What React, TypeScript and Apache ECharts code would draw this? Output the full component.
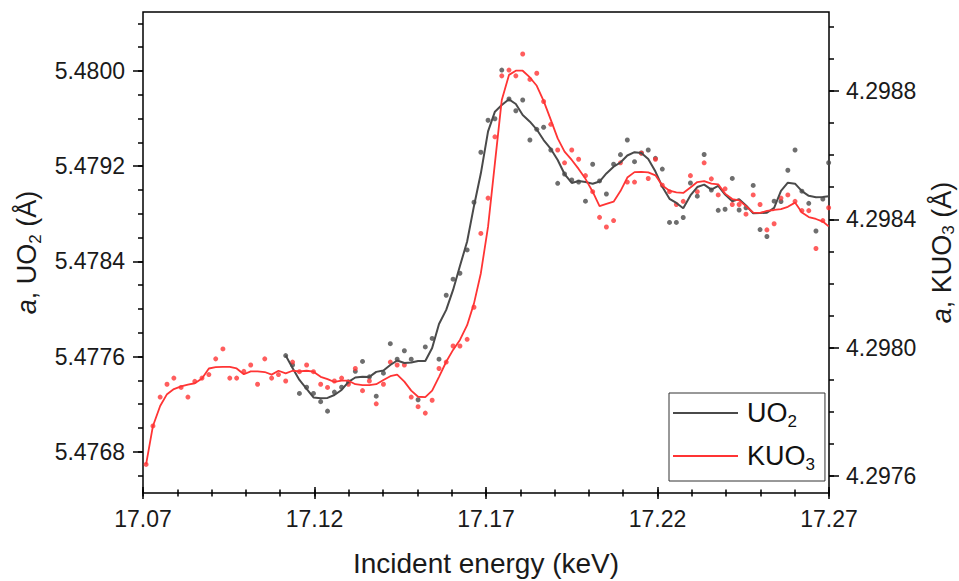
import React, { useEffect, useRef } from "react";
import * as echarts from "echarts";

// Incident energy (keV) of each measured point
const energies = [
  17.0709, 17.0729, 17.075, 17.077, 17.079, 17.0811, 17.0831, 17.0851, 17.0872, 17.0892,
  17.0912, 17.0933, 17.0953, 17.0973, 17.0994, 17.1014, 17.1034, 17.1055, 17.1075, 17.1095,
  17.1116, 17.1136, 17.1156, 17.1177, 17.1197, 17.1218, 17.1238, 17.1258, 17.1279, 17.1299,
  17.1319, 17.134, 17.136, 17.138, 17.1401, 17.1421, 17.1441, 17.1462, 17.1482, 17.1502,
  17.1523, 17.1543, 17.1563, 17.1584, 17.1604, 17.1624, 17.1645, 17.1665, 17.1685, 17.1706,
  17.1726, 17.1746, 17.1767, 17.1787, 17.1807, 17.1828, 17.1848, 17.1868, 17.1889, 17.1909,
  17.1929, 17.195, 17.197, 17.199, 17.2011, 17.2031, 17.2051, 17.2072, 17.2092, 17.2112,
  17.2133, 17.2153, 17.2173, 17.2194, 17.2214, 17.2235, 17.2255, 17.2275, 17.2296, 17.2316,
  17.2336, 17.2357, 17.2377, 17.2397, 17.2418, 17.2438, 17.2458, 17.2479, 17.2499, 17.2519,
  17.254, 17.256, 17.258, 17.2601, 17.2621, 17.2641, 17.2662, 17.2682, 17.2699,
];

// KUO3 lattice parameter (right axis), measured points
const kuo3Points = [
  4.297636, 4.297756, 4.297846, 4.297886, 4.297905, 4.297876, 4.297846, 4.297895, 4.297905, 4.297916,
  4.297965, 4.297996, 4.297905, 4.297905, 4.297926, 4.297946, 4.297886, 4.297965, 4.297905, 4.297916,
  4.297896, 4.297955, 4.297925, 4.297946, 4.297925, 4.297886, 4.297876, 4.297896, 4.297905, 4.297886,
  4.297935, 4.297866, 4.297896, 4.297825, 4.297886, 4.297955, 4.297946, 4.297946, 4.297846, 4.297816,
  4.297796, 4.297836, 4.297935, 4.297955, 4.298005, 4.298005, 4.298026, 4.298126, 4.298356, 4.298466,
  4.298657, 4.298847, 4.298865, 4.298847, 4.298915, 4.298836, 4.298855, 4.298767, 4.298696, 4.298616,
  4.298576, 4.298616, 4.298587, 4.298536, 4.298486, 4.298406, 4.298376, 4.298396, 4.298576, 4.298516,
  4.298516, 4.298606, 4.298527, 4.298587, 4.298506, 4.298486, 4.298446, 4.298456, 4.298536, 4.298486,
  4.298576, 4.298526, 4.298476, 4.298495, 4.298446, 4.298446, 4.298416, 4.298476, 4.298446, 4.298367,
  4.298386, 4.298466, 4.298476, 4.298456, 4.298427, 4.298427, 4.298309, 4.298396, 4.298436,
];

// KUO3 smoothed curve
const kuo3Smooth = [
  4.297636, 4.297756, 4.297818, 4.297855, 4.297871, 4.297879, 4.297885, 4.297889, 4.297904, 4.297935,
  4.297939, 4.29794, 4.29794, 4.297935, 4.297917, 4.297926, 4.297926, 4.297924, 4.297916, 4.297928,
  4.29792, 4.297928, 4.297926, 4.297928, 4.297925, 4.297909, 4.297902, 4.297893, 4.297897, 4.297897,
  4.297886, 4.297883, 4.297883, 4.297886, 4.297899, 4.297911, 4.297916, 4.297894, 4.297866, 4.297847,
  4.297846, 4.297866, 4.297909, 4.297956, 4.297993, 4.298024, 4.29807, 4.298138, 4.298232, 4.298377,
  4.298575, 4.298772, 4.29885, 4.298863, 4.298863, 4.298842, 4.298816, 4.298769, 4.29871, 4.298652,
  4.298611, 4.298585, 4.298557, 4.298526, 4.298486, 4.298441, 4.298448, 4.298455, 4.298488, 4.29853,
  4.298547, 4.298548, 4.298546, 4.298537, 4.298505, 4.298489, 4.298484, 4.298482, 4.298499, 4.298516,
  4.298519, 4.298511, 4.298509, 4.29848, 4.298463, 4.298459, 4.298441, 4.298421, 4.29842, 4.298426,
  4.298429, 4.298432, 4.298439, 4.298452, 4.298421, 4.298407, 4.298401, 4.298393, 4.298378,
];

// UO2 data starts at the 21st energy
const uo2StartIndex = 20;

// UO2 lattice parameter (left axis), measured points
const uo2Points = [
  5.477608, 5.477529, 5.47729, 5.477342, 5.47729, 5.477221, 5.477141, 5.477301, 5.477342, 5.477387,
  5.477476, 5.477559, 5.477429, 5.477267, 5.47746, 5.477708, 5.477578, 5.477649, 5.477578, 5.477237,
  5.477681, 5.477752, 5.477578, 5.478115, 5.47825, 5.4783, 5.478496, 5.478897, 5.479317, 5.479586,
  5.479599, 5.480008, 5.479765, 5.479666, 5.479756, 5.47942, 5.47951, 5.479527, 5.479336, 5.479056,
  5.479134, 5.479084, 5.479067, 5.478906, 5.479216, 5.479076, 5.478966, 5.479216, 5.479297, 5.47942,
  5.479238, 5.479311, 5.479336, 5.479266, 5.479176, 5.478727, 5.478727, 5.478769, 5.479059, 5.478948,
  5.479298, 5.479, 5.478829, 5.478838, 5.479097, 5.478832, 5.47885, 5.479038, 5.478667, 5.478609,
  5.478906, 5.478903, 5.479166, 5.479336, 5.47899, 5.478888, 5.478655, 5.478924, 5.479229,
];

// UO2 smoothed curve
const uo2Smooth = [
  5.477608, 5.477504, 5.477403, 5.477328, 5.477256, 5.47725, 5.477252, 5.477277, 5.477319, 5.477387,
  5.477424, 5.477431, 5.477429, 5.477471, 5.477483, 5.477529, 5.477567, 5.477546, 5.47755, 5.477563,
  5.477563, 5.477672, 5.477874, 5.477992, 5.47816, 5.478361, 5.478567, 5.478866, 5.47914, 5.479492,
  5.479658, 5.479714, 5.479762, 5.479723, 5.47963, 5.479574, 5.479508, 5.47942, 5.479345, 5.479252,
  5.479134, 5.479059, 5.479076, 5.479067, 5.479053, 5.479071, 5.479139, 5.479196, 5.479231, 5.47929,
  5.479318, 5.479311, 5.479261, 5.479155, 5.479028, 5.478926, 5.478891, 5.478846, 5.478954, 5.479025,
  5.479045, 5.479003, 5.479034, 5.478962, 5.478905, 5.478923, 5.47887, 5.478804, 5.478807, 5.478809,
  5.47885, 5.478992, 5.479061, 5.479053, 5.47899, 5.478951, 5.478939, 5.478941, 5.478947,
];

// Tick values
const xTicks = [17.07, 17.12, 17.17, 17.22, 17.27];
const xMinorTicks = [
  17.07, 17.08, 17.09, 17.1, 17.11, 17.12, 17.13, 17.14, 17.15, 17.16, 17.17,
  17.18, 17.19, 17.2, 17.21, 17.22, 17.23, 17.24, 17.25, 17.26, 17.27,
];
const leftTicks = [5.4768, 5.4776, 5.4784, 5.4792, 5.48];
const leftMinorTicks = [
  5.4766, 5.4768, 5.477, 5.4772, 5.4774, 5.4776, 5.4778, 5.478, 5.4782, 5.4784,
  5.4786, 5.4788, 5.479, 5.4792, 5.4794, 5.4796, 5.4798, 5.48, 5.4802, 5.4804,
];
const rightTicks = [4.2976, 4.298, 4.2984, 4.2988];
const rightMinorTicks = [
  4.2976, 4.2977, 4.2978, 4.2979, 4.298, 4.2981, 4.2982, 4.2983, 4.2984, 4.2985,
  4.2986, 4.2987, 4.2988, 4.2989, 4.299,
];

const X_MIN = 17.07;
const X_MAX = 17.27;
const LEFT_MIN = 5.476453;
const LEFT_MAX = 5.480496;
const RIGHT_MIN = 4.297547;
const RIGHT_MAX = 4.299046;

const FONT = "'Liberation Sans', Arial, Helvetica, sans-serif";
const GRAY = "#4a4a4a";
const RED = "#ff3434";
const TICK_LINE = { color: "#000", width: 1.5 };

export default function App() {
  const ref = useRef<HTMLDivElement>(null);

  useEffect(() => {
    if (!ref.current) return;
    const chart = echarts.init(ref.current, undefined, { renderer: "svg" });

    const uo2PointData = uo2Points.map((v, k) => [energies[k + uo2StartIndex], v]);
    const uo2LineData = uo2Smooth.map((v, k) => [energies[k + uo2StartIndex], v]);
    const kuo3PointData = kuo3Points.map((v, k) => [energies[k], v]);
    const kuo3LineData = kuo3Smooth.map((v, k) => [energies[k], v]);

    const xBase = {
      type: "value",
      min: X_MIN,
      max: X_MAX,
      position: "bottom",
      splitLine: { show: false },
      axisLine: { show: false, onZero: false },
    };
    const leftBase = {
      type: "value",
      min: LEFT_MIN,
      max: LEFT_MAX,
      position: "left",
      splitLine: { show: false },
      axisLine: { show: false, onZero: false },
    };
    const rightBase = {
      type: "value",
      min: RIGHT_MIN,
      max: RIGHT_MAX,
      position: "right",
      splitLine: { show: false },
      axisLine: { show: false, onZero: false },
    };

    const labelStyle = { fontSize: 23, color: "#1a1a1a", fontFamily: FONT };
    const makeNameStyle = (lh: number, subLh: number) => ({
      fontSize: 27,
      color: "#1a1a1a",
      fontFamily: FONT,
      lineHeight: lh,
      rich: {
        i: { fontSize: 27, fontStyle: "italic", fontFamily: FONT, color: "#1a1a1a", lineHeight: lh },
        s: { fontSize: 17, fontFamily: FONT, color: "#1a1a1a", lineHeight: subLh, verticalAlign: "bottom" },
      },
    });

    chart.setOption({
      animation: false,
      backgroundColor: "#fff",
      grid: {
        left: 143,
        right: 130,
        top: 12,
        bottom: 88,
        outerBoundsMode: "none",
        containLabel: false,
        show: true,
        borderColor: "#000",
        borderWidth: 1.5,
        backgroundColor: "transparent",
      },
      legend: {
        data: ["UO2", "KUO3"],
        orient: "vertical",
        left: 669,
        top: 393,
        icon: "rect",
        itemWidth: 65,
        itemHeight: 2,
        itemGap: 9,
        padding: [3, 10, 8, 4],
        borderColor: "#333",
        borderWidth: 1,
        backgroundColor: "#fff",
        formatter: (n: string) => (n === "UO2" ? "UO{s|2}" : "KUO{s|3}"),
        textStyle: {
          fontSize: 27,
          lineHeight: 34,
          fontFamily: FONT,
          color: "#111",
          padding: [0, 0, 0, 4],
          rich: {
            s: { fontSize: 17, lineHeight: 17, verticalAlign: "bottom", fontFamily: FONT, color: "#111" },
          },
        },
      },
      xAxis: [
        {
          ...xBase,
          name: "Incident energy (keV)",
          nameLocation: "middle",
          nameGap: 56,
          nameTextStyle: { fontSize: 28, color: "#1a1a1a", fontFamily: FONT },
          axisLabel: {
            ...labelStyle,
            margin: 14,
            customValues: xTicks,
            formatter: (v: number) => v.toFixed(2),
          },
          axisTick: { customValues: xTicks, length: 6, lineStyle: TICK_LINE },
        },
        {
          ...xBase,
          axisLabel: { show: false },
          axisTick: { customValues: xMinorTicks, length: 3.5, lineStyle: TICK_LINE },
        },
        {
          ...xBase,
          axisLabel: { show: false },
          axisTick: { customValues: xTicks, inside: true, length: 6, lineStyle: TICK_LINE },
        },
        {
          ...xBase,
          axisLabel: { show: false },
          axisTick: { customValues: xMinorTicks, inside: true, length: 3.5, lineStyle: TICK_LINE },
        },
      ],
      yAxis: [
        {
          ...leftBase,
          name: "{i|a}, UO{s|2} (Å)",
          nameLocation: "middle",
          nameRotate: 90,
          nameGap: 98,
          nameTextStyle: makeNameStyle(34, 17),
          axisLabel: {
            ...labelStyle,
            margin: 18,
            customValues: leftTicks,
            formatter: (v: number) => v.toFixed(4),
          },
          axisTick: { customValues: leftTicks, length: 10, lineStyle: TICK_LINE },
        },
        {
          ...rightBase,
          name: "{i|a}, KUO{s|3} (Å)",
          nameLocation: "middle",
          nameRotate: 90,
          nameGap: 98,
          nameTextStyle: makeNameStyle(30, 15),
          axisLabel: {
            ...labelStyle,
            margin: 17,
            customValues: rightTicks,
            formatter: (v: number) => v.toFixed(4),
          },
          axisTick: { customValues: rightTicks, length: 10, lineStyle: TICK_LINE },
        },
        {
          ...leftBase,
          axisLabel: { show: false },
          axisTick: { customValues: leftMinorTicks, length: 5, lineStyle: TICK_LINE },
        },
        {
          ...rightBase,
          axisLabel: { show: false },
          axisTick: { customValues: rightMinorTicks, length: 5, lineStyle: TICK_LINE },
        },
      ],
      series: [
        {
          name: "UO2 points",
          type: "scatter",
          xAxisIndex: 0,
          yAxisIndex: 0,
          data: uo2PointData,
          symbolSize: 5,
          itemStyle: { color: GRAY },
          z: 2,
        },
        {
          name: "KUO3 points",
          type: "scatter",
          xAxisIndex: 0,
          yAxisIndex: 1,
          data: kuo3PointData,
          symbolSize: 5,
          itemStyle: { color: RED },
          z: 2,
        },
        {
          name: "UO2",
          type: "line",
          xAxisIndex: 0,
          yAxisIndex: 0,
          data: uo2LineData,
          symbol: "none",
          showSymbol: false,
          lineStyle: { color: GRAY, width: 2 },
          itemStyle: { color: GRAY },
          z: 3,
        },
        {
          name: "KUO3",
          type: "line",
          xAxisIndex: 0,
          yAxisIndex: 1,
          data: kuo3LineData,
          symbol: "none",
          showSymbol: false,
          lineStyle: { color: RED, width: 1.8 },
          itemStyle: { color: RED },
          z: 4,
        },
      ],
    });

    return () => chart.dispose();
  }, []);

  return (
    <div
      ref={ref}
      style={{ position: "absolute", left: 0, top: 0, width: 959, height: 581, background: "#fff" }}
    />
  );
}
